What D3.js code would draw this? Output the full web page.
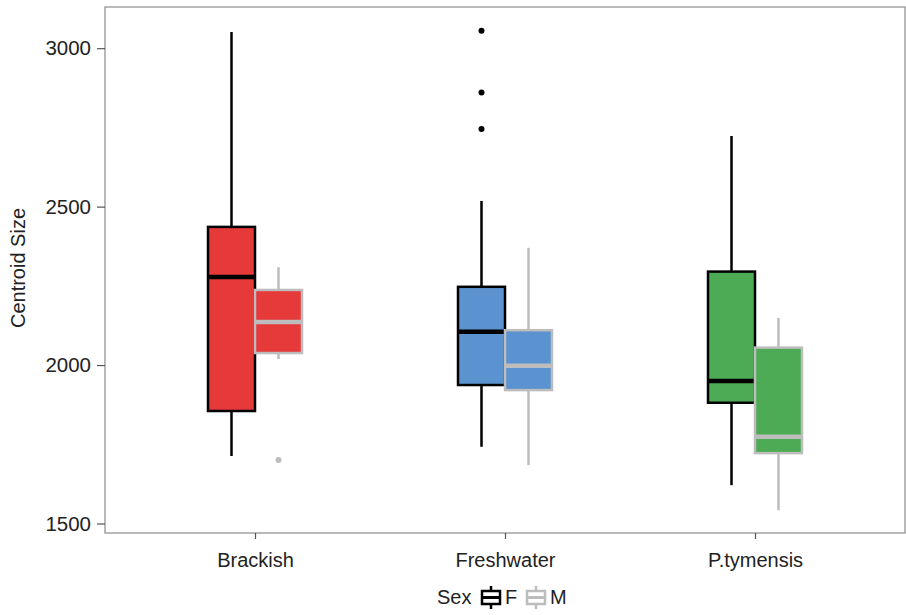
<!DOCTYPE html>
<html>
<head>
<meta charset="utf-8">
<script src="https://cdn.jsdelivr.net/npm/d3@7"></script>
<style>
  body { margin: 0; background: #fff; }
  text { font-family: "Liberation Sans", Arial, sans-serif; }
</style>
</head>
<body>
<svg id="chart"></svg>
<script>
// data
var habitats = ["Brackish", "Freshwater", "P.tymensis"];
var sexes = ["F", "M"];
var yTicks = [1500, 2000, 2500, 3000];
// [whiskerLow, q1, median, q3, whiskerHigh] per habitat, per sex
var statsF = [
  [1713, 1855, 2278, 2436, 3051],
  [1742, 1937, 2105, 2247, 2518],
  [1621, 1881, 1950, 2295, 2723]
];
var statsM = [
  [2019, 2038, 2136, 2237, 2309],
  [1684, 1921, 1998, 2110, 2370],
  [1542, 1722, 1774, 2055, 2149]
];
var outliersF = [[], [3055, 2860, 2745], []];
var outliersM = [[1700], [], []];
var fillColors = ["#e5393a", "#5b93d0", "#4dab55"];
var lineColors = {F: "#000000", M: "#bdbdbd"};

var W = 906, H = 615;
var margin = {top: 7, right: 1, bottom: 82, left: 105},
    width = W - margin.left - margin.right,
    height = H - margin.top - margin.bottom;

var svg = d3.select("#chart").attr("width", W).attr("height", H)
  .append("g")
    .attr("transform", "translate(" + margin.left + "," + margin.top + ")");

// ggplot style discrete axis: 0.6 unit expansion on both sides
var xPos = d3.scaleLinear().domain([0.4, habitats.length + 0.6]).range([0, width]);
var x = function(name) { return xPos(habitats.indexOf(name) + 1); };
var y = d3.scaleLinear().domain([1470, 3130]).range([height, 0]);
var dodge = d3.scaleBand().domain(sexes).range([-47, 47]);

// data rows
var rows = [];
habitats.forEach(function(h, i) {
  rows.push({hab: h, sex: "F", s: statsF[i], out: outliersF[i], fill: fillColors[i]});
  rows.push({hab: h, sex: "M", s: statsM[i], out: outliersM[i], fill: fillColors[i]});
});

var boxes = svg.selectAll(".box").data(rows).enter().append("g")
  .attr("class", "box")
  .attr("transform", function(d) { return "translate(" + (x(d.hab) + dodge(d.sex)) + ",0)"; });

var bw = dodge.bandwidth();

// whiskers
boxes.append("line")
  .attr("x1", bw / 2).attr("x2", bw / 2)
  .attr("y1", function(d) { return y(d.s[0]); })
  .attr("y2", function(d) { return y(d.s[1]); })
  .attr("stroke", function(d) { return lineColors[d.sex]; })
  .attr("stroke-width", 2.5);
boxes.append("line")
  .attr("x1", bw / 2).attr("x2", bw / 2)
  .attr("y1", function(d) { return y(d.s[3]); })
  .attr("y2", function(d) { return y(d.s[4]); })
  .attr("stroke", function(d) { return lineColors[d.sex]; })
  .attr("stroke-width", 2.5);

// boxes
boxes.append("rect")
  .attr("x", 0)
  .attr("width", bw)
  .attr("y", function(d) { return y(d.s[3]); })
  .attr("height", function(d) { return y(d.s[1]) - y(d.s[3]); })
  .attr("fill", function(d) { return d.fill; })
  .attr("stroke", function(d) { return lineColors[d.sex]; })
  .attr("stroke-width", 2.5);

// medians
boxes.append("line")
  .attr("x1", 0).attr("x2", bw)
  .attr("y1", function(d) { return y(d.s[2]); })
  .attr("y2", function(d) { return y(d.s[2]); })
  .attr("stroke", function(d) { return lineColors[d.sex]; })
  .attr("stroke-width", 4.5);

// outliers
boxes.each(function(d) {
  d3.select(this).selectAll("circle").data(d.out).enter().append("circle")
    .attr("cx", bw / 2)
    .attr("cy", function(v) { return y(v); })
    .attr("r", 3)
    .attr("fill", lineColors[d.sex]);
});

// panel border
svg.append("rect")
  .attr("x", 0).attr("y", 0)
  .attr("width", width).attr("height", height)
  .attr("fill", "none")
  .attr("stroke", "#8a8a8a")
  .attr("stroke-width", 1.2);

// y axis
var yAxis = svg.append("g")
  .call(d3.axisLeft(y).tickValues(yTicks).tickSize(8).tickPadding(6).tickFormat(d3.format("d")));
yAxis.select(".domain").remove();
yAxis.selectAll(".tick line").attr("stroke", "#555").attr("stroke-width", 1.2);
yAxis.selectAll(".tick text").attr("font-size", 20.5).attr("fill", "#222")
  .style("font-family", "'Liberation Sans', Arial, sans-serif");

// x axis
var xAxis = svg.append("g")
  .attr("transform", "translate(0," + height + ")")
  .call(d3.axisBottom(xPos).tickValues(habitats.map(function(h, i) { return i + 1; }))
    .tickSize(6).tickPadding(14).tickFormat(function(v) { return habitats[v - 1]; }));
xAxis.select(".domain").remove();
xAxis.selectAll(".tick line").attr("stroke", "#555").attr("stroke-width", 1.2);
xAxis.selectAll(".tick text").attr("font-size", 20).attr("fill", "#222")
  .style("font-family", "'Liberation Sans', Arial, sans-serif");

// y label
svg.append("text")
  .attr("transform", "rotate(-90)")
  .attr("x", -height / 2 + 2)
  .attr("y", -80)
  .style("text-anchor", "middle")
  .attr("font-size", 20)
  .attr("fill", "#222")
  .text("Centroid Size");

// legend
var legend = svg.append("g").attr("transform", "translate(" + 332 + "," + (height + 64) + ")");
legend.append("text").attr("x", 0).attr("y", 7).attr("font-size", 20).attr("fill", "#222").text("Sex");
var keys = legend.selectAll(".key").data(sexes).enter().append("g")
  .attr("class", "key")
  .attr("transform", function(d, i) { return "translate(" + (44 + i * 45) + ",0)"; });
keys.append("line").attr("x1", 10).attr("x2", 10).attr("y1", -11).attr("y2", 12)
  .attr("stroke", function(d) { return lineColors[d]; }).attr("stroke-width", 2.5);
keys.append("rect").attr("x", 1).attr("y", -6).attr("width", 18).attr("height", 13)
  .attr("fill", "#fff")
  .attr("stroke", function(d) { return lineColors[d]; }).attr("stroke-width", 2.5);
keys.append("line").attr("x1", 1).attr("x2", 19).attr("y1", 0.5).attr("y2", 0.5)
  .attr("stroke", function(d) { return lineColors[d]; }).attr("stroke-width", 3);
keys.append("text").attr("x", 24).attr("y", 7).attr("font-size", 20).attr("fill", "#222")
  .text(function(d) { return d; });
</script>
</body>
</html>
